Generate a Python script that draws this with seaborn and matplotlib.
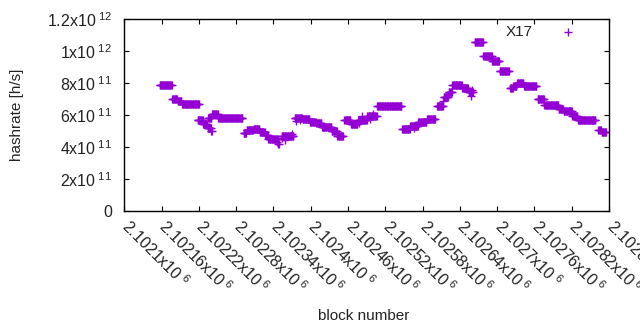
import numpy as np
import pandas as pd
import matplotlib
matplotlib.use("Agg")
import matplotlib.pyplot as plt
import matplotlib.transforms as mtransforms
import seaborn as sns

# ---- data ----
BASE_BLOCK = 2102100
# run-length steps of the hashrate series: first block offset, last block offset, rate [x1e11 h/s]
seg_start = [57, 77, 86, 93, 118, 127, 134, 140, 135, 141, 151, 192, 197, 208, 218, 227, 232, 248,
             253, 274, 287, 299, 309, 318, 334, 343, 354, 365, 376, 391, 407, 447, 460, 473, 487,
             503, 514, 522, 528, 544, 554, 564, 578, 592, 604, 621, 626, 632, 643, 665, 676, 699,
             707, 721, 730, 763, 768]
seg_end = [76, 85, 92, 120, 126, 133, 139, 141, 140, 150, 190, 196, 207, 217, 226, 231, 247, 249,
           272, 286, 298, 308, 317, 333, 342, 352, 364, 375, 390, 406, 446, 459, 472, 486, 500,
           513, 521, 527, 543, 553, 561, 577, 591, 603, 619, 625, 631, 642, 663, 675, 698, 706,
           720, 729, 758, 767, 775]
seg_rate = [7.86, 7.00, 6.87, 6.67, 5.70, 5.43, 5.20, 4.98, 5.85, 6.05, 5.82, 4.86, 5.06, 5.12, 4.96,
            4.75, 4.50, 4.22, 4.68, 5.80, 5.75, 5.58, 5.48, 5.25, 5.00, 4.68, 5.67, 5.47, 5.72, 5.92,
            6.55, 5.11, 5.35, 5.55, 5.78, 6.55, 7.12, 7.45, 7.87, 7.73, 7.42, 10.6, 9.72, 9.42, 8.79,
            7.68, 7.85, 8.02, 7.85, 7.02, 6.63, 6.40, 6.23, 5.92, 5.67, 5.05, 4.92]
# isolated blocks off the steps
odd_block = [245, 254, 258, 270, 276, 283, 378, 383, 395, 400, 558, 560, 513, 470, 466]
odd_rate = [4.30, 4.55, 4.45, 4.80, 5.65, 5.70, 5.50, 5.95, 5.75, 6.05, 7.20, 7.60, 6.90, 5.30, 5.20]

y_ticks = [0, 2e11, 4e11, 6e11, 8e11, 1e12, 1.2e12]
y_tick_labels = ["0", r"2x10$^{\ 11}$", r"4x10$^{\ 11}$", r"6x10$^{\ 11}$", r"8x10$^{\ 11}$",
                 r"1x10$^{\ 12}$", r"1.2x10$^{\ 12}$"]
x_tick_mant = ["2.1021", "2.10216", "2.10222", "2.10228", "2.10234", "2.1024", "2.10246",
               "2.10252", "2.10258", "2.10264", "2.1027", "2.10276", "2.10282", "2.10288"]
x_ticks = [float(m) * 1e6 for m in x_tick_mant]
x_tick_labels = [m + r"x10$^{\ 6}$" for m in x_tick_mant]

blocks, rates = [], []
for s, e, r in zip(seg_start, seg_end, seg_rate):
    for b in range(s, e + 1):
        blocks.append(BASE_BLOCK + b)
        rates.append(r * 1e11)
for b, r in zip(odd_block, odd_rate):
    blocks.append(BASE_BLOCK + b)
    rates.append(r * 1e11)
df = pd.DataFrame({"block": blocks, "rate": rates})

# ---- style ----
sns.set_style("white")
plt.rcParams["font.family"] = ["Liberation Sans", "DejaVu Sans"]
plt.rcParams["mathtext.fontset"] = "custom"
plt.rcParams["mathtext.rm"] = "Liberation Sans"
plt.rcParams["mathtext.it"] = "Liberation Sans:italic"
plt.rcParams["mathtext.bf"] = "Liberation Sans:bold"

FS = 11
TFS = 11.5
fig, ax = plt.subplots(figsize=(6.4, 3.3), dpi=100)
fig.subplots_adjust(left=0.1942, right=0.9516, bottom=0.3606, top=0.9415)

sns.scatterplot(data=df, x="block", y="rate", marker="+", s=30, color="#9400d3",
                linewidth=1.0, label="X17", ax=ax)

ax.set_xlim(BASE_BLOCK, BASE_BLOCK + 780)
ax.set_ylim(0, 1.2e12)
ax.set_yticks(y_ticks)
ax.set_yticklabels(y_tick_labels, fontsize=TFS, color="#222222")
ax.set_xticks(x_ticks)
ax.set_xticklabels(x_tick_labels, fontsize=TFS, color="#222222", rotation=-45,
                   ha="left", va="baseline", rotation_mode="anchor")

for sp in ax.spines.values():
    sp.set_visible(True)
    sp.set_color("black")
    sp.set_linewidth(1.0)
ax.tick_params(axis="both", direction="in", length=3.5, width=0.8, color="black",
               top=True, right=True, bottom=True, left=True)
ax.tick_params(axis="y", pad=9)
ax.tick_params(axis="x", pad=12)

shift = mtransforms.ScaledTranslation(-4 / 100, 0, fig.dpi_scale_trans)
for lab in ax.get_xticklabels():
    lab.set_transform(lab.get_transform() + shift)

ax.set_ylabel("hashrate [h/s]", fontsize=FS, color="#222222")
ax.yaxis.set_label_coords(-0.207, 0.5)
ax.set_xlabel("block number", fontsize=FS, color="#222222")
ax.xaxis.set_label_coords(0.4945, -0.51)

leg = ax.legend(loc="upper right", markerfirst=False, frameon=False, fontsize=FS,
                bbox_to_anchor=(0.9464, 0.969), borderpad=0, borderaxespad=0,
                handlelength=2.0, handletextpad=1.33, scatterpoints=1)
for t in leg.get_texts():
    t.set_color("#222222")

fig.savefig("out.png", dpi=100)
